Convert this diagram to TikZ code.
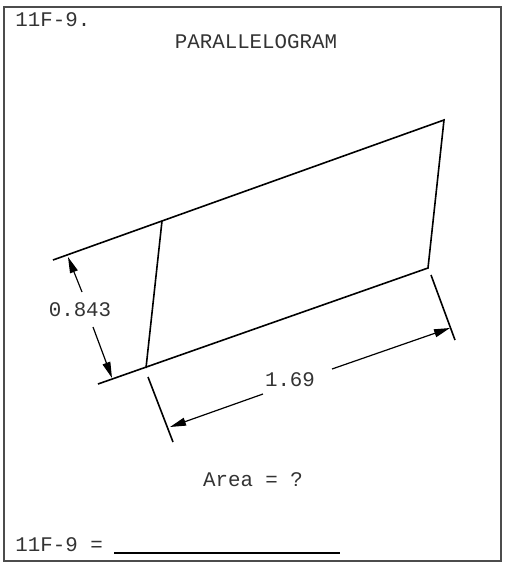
\documentclass[tikz,border=0pt]{standalone}
\usepackage{fontspec}
\setmainfont{Liberation Mono}
\usetikzlibrary{arrows.meta}

\begin{document}
\begin{tikzpicture}[x=0.5pt,y=-0.5pt,
    lbl/.style={font=\fontsize{10.4}{12}\selectfont,text=black!80,inner sep=0pt},
    edge/.style={line width=0.8pt},
    dimarrow/.style={line width=0.6pt,-{Stealth[length=8pt,width=4pt,inset=0pt]}}]
        \useasboundingbox(0,0)rectangle(505,563);
        % frame
        \path[draw,line width=0.6pt,black!70](4,7)rectangle(501,561);
        % texts
        \node[lbl,anchor=west](num)at(15,20){11F-9.};
        \node[lbl](title)at(256,42){PARALLELOGRAM};
        \node[lbl](h)at(80,310){0.843};
        \node[lbl](w)at(290,380){1.69};
        \node[lbl](area)at(253,480){Area = ?};
        \node[lbl,anchor=west](ans)at(15,545){11F-9 =};
        \coordinate(u1)at(114,553);
        \coordinate(u2)at(340,553);
        \path[draw,line width=0.6pt](u1)to(u2);
        % parallelogram
        \coordinate(A)at(146,368);
        \coordinate(B)at(428,268);
        \coordinate(C)at(444,120);
        \coordinate(D)at(162,221);
        \coordinate(E)at(53,260);
        \coordinate(F)at(98,384);
        \path[draw,edge](E)to(C)to(B)to(F);
        \path[draw,edge](D)to(A);
        % height
        \coordinate(p1)at(68,257);
        \coordinate(p2)at(112,378);
        \coordinate(g1)at(82,292);
        \coordinate(g2)at(93,327);
        \path[draw,dimarrow](g1)to(p1);
        \path[draw,dimarrow](g2)to(p2);
        % base
        \coordinate(L1)at(148,377);
        \coordinate(L2)at(173,442);
        \coordinate(R1)at(431,275);
        \coordinate(R2)at(455,340);
        \path[draw,edge](L1)to(L2);
        \path[draw,edge](R1)to(R2);
        \coordinate(q1)at(170,427);
        \coordinate(q2)at(450,328);
        \coordinate(k1)at(263,394);
        \coordinate(k2)at(332,369);
        \path[draw,dimarrow](k1)to(q1);
        \path[draw,dimarrow](k2)to(q2);
    \end{tikzpicture}
\end{document}
